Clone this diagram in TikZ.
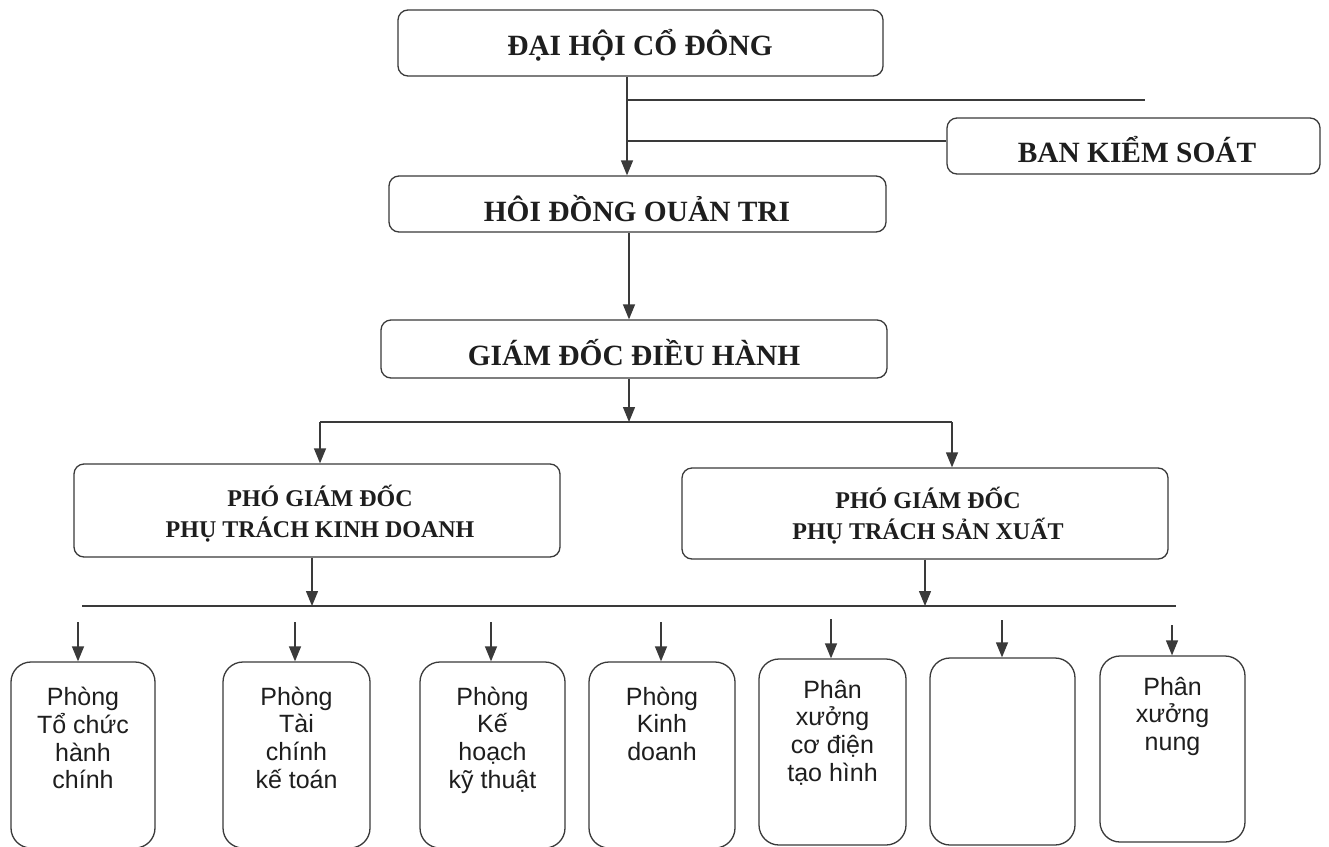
\documentclass[tikz,border=0pt]{standalone}
\usepackage{fontspec}
\setmainfont{Liberation Serif}
\newfontfamily\sansvn{Liberation Sans}
\usetikzlibrary{arrows.meta}
\definecolor{ink}{HTML}{3A3A3A}
\definecolor{txt}{HTML}{1E1E1E}
\begin{document}
\begin{tikzpicture}[x=1pt,y=-1pt,
  box/.style={draw=ink, line width=1.3pt, rounded corners=10pt, inner sep=0pt},
  dbox/.style={draw=ink, line width=1.3pt, rounded corners=20pt, inner sep=0pt, minimum width=145pt, minimum height=186pt},
  conn/.style={draw=ink, line width=1.3pt},
  arr/.style={conn, -{Triangle[width=12pt,length=15pt]}},
  ttl/.style={text=txt, font=\fontsize{29.4}{32}\selectfont\bfseries, inner sep=0pt, anchor=base},
  sub/.style={text=txt, font=\fontsize{24}{31.5}\selectfont\bfseries, inner sep=0pt, anchor=base},
  dtext/.style={text=txt, font=\sansvn\fontsize{25}{27.7}\selectfont, inner sep=0pt, anchor=base}]
\useasboundingbox (0,0) rectangle (1329,846);
\fill[white] (0,0) rectangle (1329,846);
\clip (0,0) rectangle (1329,846);

% boxes
\node[box, minimum width=485pt, minimum height=66pt] (dhcd) at (640.5,43) {};
\node[box, minimum width=497pt, minimum height=56pt] (hdqt) at (637.5,204) {};
\node[box, minimum width=373pt, minimum height=56pt] (bks) at (1133.5,146) {};
\node[box, minimum width=506pt, minimum height=58pt] (gd) at (634,349) {};
\node[box, minimum width=486pt, minimum height=93pt] (pkd) at (317,510.5) {};
\node[box, minimum width=486pt, minimum height=91pt] (psx) at (925,513.5) {};
\node[dbox, minimum width=144pt] (b1) at (83,755) {};
\node[dbox, minimum width=147pt] (b2) at (296.5,755) {};
\node[dbox] (b3) at (492.5,755) {};
\node[dbox, minimum width=146pt] (b4) at (662,755) {};
\node[dbox, minimum width=147pt] (b5) at (832.5,752) {};
\node[dbox, minimum height=187pt] (b6) at (1002.5,751.5) {};
\node[dbox] (b7) at (1172.5,749) {};

% texts
\node[ttl] (tdh) at (640,55) {ĐẠI HỘI CỔ ĐÔNG};
\node[ttl] (thd) at (637,221) {HÔI ĐỒNG OUẢN TRI};
\node[ttl] (tbk) at (1137,162) {BAN KIỂM SOÁT};
\node[ttl] (tgd) at (634,365) {GIÁM ĐỐC ĐIỀU HÀNH};
\node[sub] (tkd) at (320,506) {\begin{tabular}[t]{@{}c@{}}PHÓ GIÁM ĐỐC\\PHỤ TRÁCH KINH DOANH\end{tabular}};
\node[sub] (tsx) at (928,508) {\begin{tabular}[t]{@{}c@{}}PHÓ GIÁM ĐỐC\\PHỤ TRÁCH SẢN XUẤT\end{tabular}};
\node[dtext] (t1) at (83,705) {\begin{tabular}[t]{@{}c@{}}Phòng\\Tổ chức\\hành\\chính\end{tabular}};
\node[dtext] (t2) at (296.5,705) {\begin{tabular}[t]{@{}c@{}}Phòng\\Tài\\chính\\kế toán\end{tabular}};
\node[dtext] (t3) at (492.5,705) {\begin{tabular}[t]{@{}c@{}}Phòng\\Kế\\hoạch\\kỹ thuật\end{tabular}};
\node[dtext] (t4) at (662,705) {\begin{tabular}[t]{@{}c@{}}Phòng\\Kinh\\doanh\end{tabular}};
\node[dtext] (t5) at (832.5,698) {\begin{tabular}[t]{@{}c@{}}Phân\\xưởng\\cơ điện\\tạo hình\end{tabular}};
\node[dtext] (t7) at (1172.5,695) {\begin{tabular}[t]{@{}c@{}}Phân\\xưởng\\nung\end{tabular}};

% connectors, top part
\coordinate (c1) at (627,0);
\coordinate (e1) at (1145,100);
\coordinate (e2) at (0,141);
\draw[arr] (c1 |- dhcd.south) -- (c1 |- hdqt.north);
\draw[conn] (c1 |- e1) -- (e1);
\draw[conn] (c1 |- e2) -- (bks.west |- e2);
\coordinate (c2) at (629,0);
\coordinate (bus1) at (0,422);
\draw[arr] (c2 |- hdqt.south) -- (c2 |- gd.north);
\draw[arr] (c2 |- gd.south) -- (c2 |- bus1);
\coordinate (busL) at (320,422);
\coordinate (busR) at (952,422);
\draw[conn] (busL) -- (busR);
\draw[arr] (busL) -- (busL |- pkd.north);
\draw[arr] (busR) -- (busR |- psx.north);

% lower bus
\coordinate (bus2L) at (82,606);
\coordinate (bus2R) at (1176,606);
\draw[conn] (bus2L) -- (bus2R);
\coordinate (c3) at (312,0);
\coordinate (c4) at (925,0);
\draw[arr] (c3 |- pkd.south) -- (c3 |- bus2L);
\draw[arr] (c4 |- psx.south) -- (c4 |- bus2L);

% department arrows
\coordinate (s1) at (78,622);
\coordinate (s2) at (295,622);
\coordinate (s3) at (491,622);
\coordinate (s4) at (661,622);
\coordinate (s5) at (831,619);
\coordinate (s6) at (1002,620);
\coordinate (s7) at (1172,625);
\draw[arr] (s1) -- (s1 |- b1.north);
\draw[arr] (s2) -- (s2 |- b2.north);
\draw[arr] (s3) -- (s3 |- b3.north);
\draw[arr] (s4) -- (s4 |- b4.north);
\draw[arr] (s5) -- (s5 |- b5.north);
\draw[arr] (s6) -- (s6 |- b6.north);
\draw[arr] (s7) -- (s7 |- b7.north);
\end{tikzpicture}
\end{document}
